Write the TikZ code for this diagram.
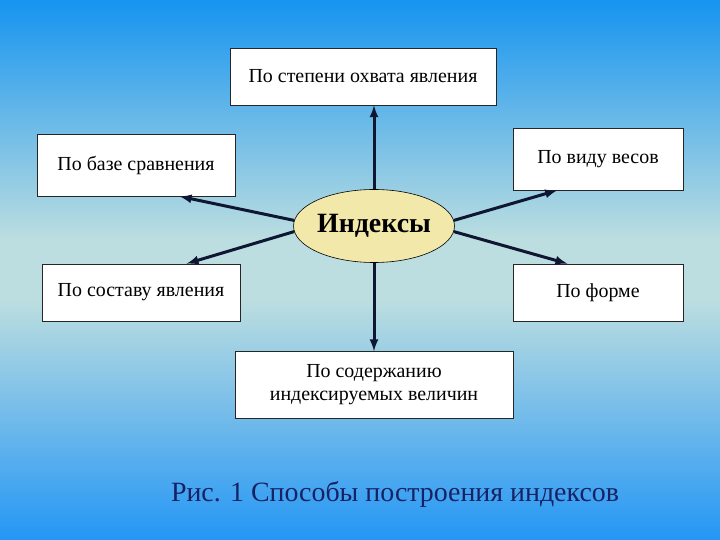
\documentclass[tikz,border=0pt]{standalone}
\usepackage{fontspec}
\setmainfont{Liberation Serif}
\usetikzlibrary{calc,shapes,arrows}
\definecolor{bgtop}{RGB}{22,148,240}
\definecolor{bgmid}{RGB}{188,222,224}
\definecolor{bgbot}{RGB}{36,150,245}
\definecolor{arrcol}{RGB}{14,22,50}
\definecolor{capcol}{RGB}{22,34,100}
\definecolor{ellfill}{RGB}{242,232,170}
\tikzset{
  box/.style={draw=black!85,fill=white,line width=0.8bp,inner sep=0pt,align=center,
    font=\fontsize{20}{23}\selectfont},
  conn/.style={arrcol,line width=3bp,-latex}
}
\begin{document}
\begin{tikzpicture}[x=1bp,y=-1bp]
    \fill[top color=bgtop,bottom color=bgmid] (0,0) rectangle (720,240);
    \fill[bgmid] (0,239) rectangle (720,301);
    \fill[top color=bgmid,bottom color=bgbot] (0,300) rectangle (720,540);
    \useasboundingbox (0,0) rectangle (720,540);
    \node[box,minimum width=266bp,minimum height=57bp] (stepen) at (363,76.5) {По степени охвата явления};
    \node[box,minimum width=198bp,minimum height=62bp] (baza) at (136,165) {По базе сравнения};
    \node[box,minimum width=170bp,minimum height=62bp] (vesa) at (598,159) {По виду весов};
    \node[box,minimum width=198bp,minimum height=57bp] (sostav) at (141,292.5) {По составу явления};
    \node[box,minimum width=170bp,minimum height=57bp] (forma) at (598,292.5) {По форме};
    \node[box,minimum width=278bp,minimum height=67bp] (soderzh) at (374,385) {По содержанию\\индексируемых величин};
    \node[ellipse,draw=black,line width=0.6bp,fill=ellfill,inner sep=0pt,minimum width=155bp,minimum height=73bp,
        font=\fontsize{28}{30}\selectfont\bfseries] (idx) at (374,226) {Индексы};
    \draw[conn] (idx.north) -- (idx.north |- stepen.south);
    \draw[conn] (idx.south) -- (idx.south |- soderzh.north);
    \draw[conn] (idx.176) -- ($(baza.south west)!0.72!(baza.south east)$);
    \draw[conn] (idx.184) -- ($(sostav.north west)!0.73!(sostav.north east)$);
    \draw[conn] (idx.4) -- ($(vesa.south west)!0.26!(vesa.south east)$);
    \draw[conn] (idx.-4) -- ($(forma.north west)!0.32!(forma.north east)$);
    \node[capcol,font=\fontsize{28}{32}\selectfont] (caption) at (395,494) {Рис. 1 Способы построения индексов};
\end{tikzpicture}
\end{document}
